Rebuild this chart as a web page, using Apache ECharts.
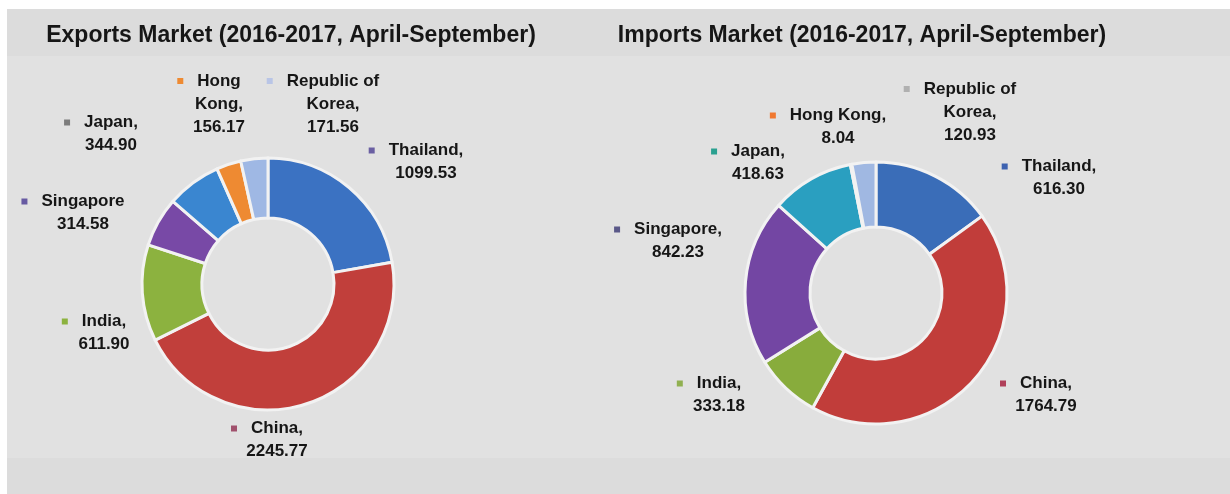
<!DOCTYPE html>
<html>
<head>
<meta charset="utf-8">
<script src="https://cdn.jsdelivr.net/npm/echarts@6/dist/echarts.min.js"></script>
<style>
  body { margin: 0; background: #ffffff; }
  #bg { position: absolute; left: 7px; top: 9px; width: 1223px; height: 485px; background: #dcdcdc; }
  #panel { position: absolute; left: 7px; top: 56px; width: 1223px; height: 402px; background: #e1e1e1; }
  #chart { position: absolute; left: 0; top: 0; width: 1230px; height: 494px; }
</style>
</head>
<body>
<div id="bg"></div>
<div id="panel"></div>
<div id="chart"></div>
<script>
// countries, clockwise from 12 o'clock
var countries = ['Thailand', 'China', 'India', 'Singapore', 'Japan', 'Hong Kong', 'Republic of Korea'];

// exports 2016-2017 (April-September)
var exportValues = [1099.53, 2245.77, 611.90, 314.58, 344.90, 156.17, 171.56];
var exportLabels = ['Thailand,', 'China,', 'India,', 'Singapore', 'Japan,', 'Hong\nKong,', 'Republic of\nKorea,'];

// imports 2016-2017 (April-September)
var importValues = [616.30, 1764.79, 333.18, 842.23, 418.63, 8.04, 120.93];
var importLabels = ['Thailand,', 'China,', 'India,', 'Singapore,', 'Japan,', 'Hong Kong,', 'Republic of\nKorea,'];

var titles = ['Exports Market (2016-2017, April-September)', 'Imports Market (2016-2017, April-September)'];

// colours
var exportColors = ['#3b72c2', '#c13f3b', '#8cb23f', '#7849a6', '#3a86d0', '#ee8a32', '#9fb8e4'];
var exportMarks  = ['#6a5fa2', '#a0506c', '#8cb23f', '#675aa2', '#7c7c7c', '#ee8a32', '#b9c5e6'];
var importColors = ['#3a6db8', '#c13d3a', '#88ac3c', '#7346a3', '#2a9fc0', '#ee7f32', '#a0b8e2'];
var importMarks  = ['#3d62b0', '#b0405a', '#90b050', '#5a5888', '#2aa090', '#f07830', '#b0b0b0'];

// label block centres (text centre x, block middle y)
var exportLabelPos = [[426, 162], [277, 440], [104, 333], [83, 213], [111, 134], [219, 104], [333, 104]];
var importLabelPos = [[1059, 178], [1046, 395], [719, 395], [678, 241], [758, 163], [838, 127], [970, 112]];

var font = '"Liberation Sans", Arial, sans-serif';

function richFor(mark){
  return {
    m: { width: 6, height: 6, backgroundColor: mark, verticalAlign: 'middle', lineHeight: 23 },
    g: { width: 14, lineHeight: 23 },
    s: { width: 20, lineHeight: 23 },
    t: { fontFamily: font, fontWeight: 'bold', fontSize: 17, color: '#161616', lineHeight: 23 }
  };
}

function labelText(label, value){
  var lines = label.split('\n');
  var out = '{m|}{g|}{t|' + lines[0] + '}{s|}';
  for(var i=1; i<lines.length; i++){
    out += '\n{t|' + lines[i] + '}';
  }
  out += '\n{t|' + value.toFixed(2) + '}';
  return out;
}

function buildData(values, labels, colors, marks){
  var arr = [];
  for(var i=0; i<values.length; i++){
    arr.push({
      name: countries[i],
      value: values[i],
      itemStyle: { color: colors[i] },
      label: { formatter: labelText(labels[i], values[i]), rich: richFor(marks[i]) }
    });
  }
  return arr;
}

function pieSeries(center, radius, data, pos){
  return {
    type: 'pie',
    center: center,
    radius: radius,
    startAngle: 90,
    clockwise: true,
    avoidLabelOverlap: false,
    animation: false,
    silent: true,
    itemStyle: { borderColor: '#f2f2f2', borderWidth: 3 },
    label: { show: true, position: 'outside', align: 'center' },
    labelLine: { show: false },
    labelLayout: function(params){
      var p = pos[params.dataIndex];
      return { x: p[0], y: p[1], align: 'center', verticalAlign: 'middle' };
    },
    data: data
  };
}

var chart = echarts.init(document.getElementById('chart'), null, { renderer: 'canvas' });
chart.setOption({
  backgroundColor: 'transparent',
  animation: false,
  title: [{
    text: titles[0],
    left: 291,
    top: 24,
    textAlign: 'center',
    padding: 0,
    textStyle: { fontFamily: font, fontWeight: 'bold', fontSize: 23, color: '#161616' }
  }, {
    text: titles[1],
    left: 862,
    top: 24,
    textAlign: 'center',
    padding: 0,
    textStyle: { fontFamily: font, fontWeight: 'bold', fontSize: 23, color: '#161616' }
  }],
  series: [
    pieSeries([268, 284], [66, 126], buildData(exportValues, exportLabels, exportColors, exportMarks), exportLabelPos),
    pieSeries([876, 293], [66, 131], buildData(importValues, importLabels, importColors, importMarks), importLabelPos)
  ]
});
</script>
</body>
</html>
